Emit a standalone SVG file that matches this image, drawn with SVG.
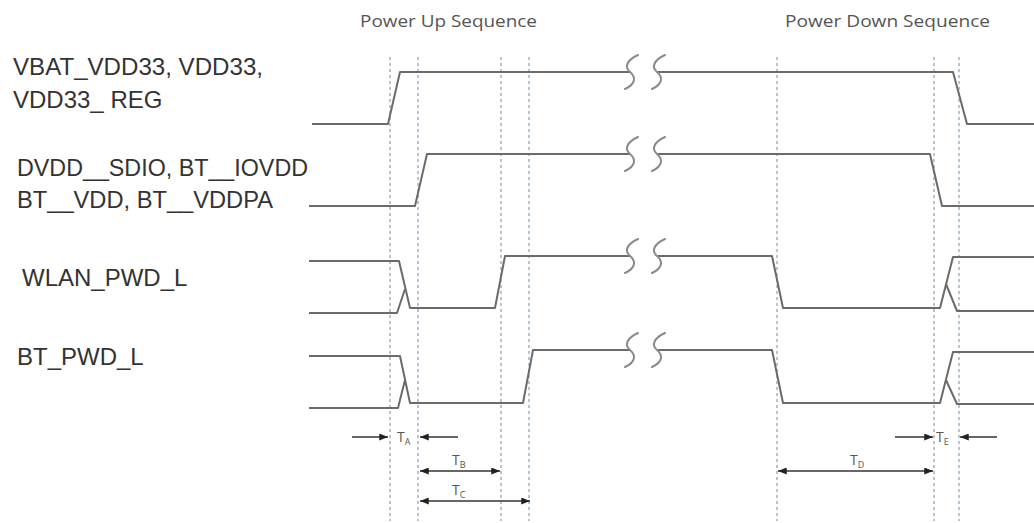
<svg xmlns="http://www.w3.org/2000/svg" width="1034" height="523" viewBox="0 0 1034 523">
<defs>
<style>
.lbl{font-family:"Liberation Sans",Arial,sans-serif;font-size:24px;fill:#333}
.hdr{font-family:"Open Sans","Liberation Sans",sans-serif;font-size:16px;fill:#555}
.tl{font-family:"Open Sans","Liberation Sans",sans-serif;font-size:14px;fill:#555}
.sig{fill:none;stroke:#6b6b6b;stroke-width:2;stroke-linejoin:round}
.brk{fill:none;stroke:#8a8a8a;stroke-width:2;stroke-linecap:round}
.dash{stroke:#7f9fc4;stroke-width:1.2;stroke-dasharray:3 3}
.arr{stroke:#333;stroke-width:1.5;fill:none}
</style>
<marker id="ah" viewBox="0 0 10 8" refX="10" refY="4" markerWidth="9" markerHeight="7" markerUnits="userSpaceOnUse" orient="auto-start-reverse">
<path d="M0,0 L10,4 L0,8 z" fill="#222"/>
</marker>
<path id="sq" d="M7,-17 C-4,-12 -7,-5 -1,0 C5,5 5,12 -6,17"/>
</defs>
<rect width="1034" height="523" fill="#fff"/>

<g id="headers">
<text class="hdr" x="360" y="27" textLength="177" lengthAdjust="spacingAndGlyphs">Power Up Sequence</text>
<text class="hdr" x="785" y="27" textLength="205" lengthAdjust="spacingAndGlyphs">Power Down Sequence</text>
</g>

<g id="guides">
<line class="dash" x1="390" y1="57" x2="390" y2="521"/>
<line class="dash" x1="418" y1="57" x2="418" y2="521"/>
<line class="dash" x1="501" y1="57" x2="501" y2="521"/>
<line class="dash" x1="529" y1="57" x2="529" y2="521"/>
<line class="dash" x1="777" y1="57" x2="777" y2="521"/>
<line class="dash" x1="934" y1="57" x2="934" y2="521"/>
<line class="dash" x1="959" y1="57" x2="959" y2="521"/>
</g>

<g id="sig-vbat">
<text class="lbl" x="13" y="75" textLength="250" lengthAdjust="spacingAndGlyphs">VBAT_VDD33, VDD33,</text>
<text class="lbl" x="13" y="108">VDD33_ REG</text>
<path class="sig" d="M312,124 L388,124 L400,72 L630,72"/>
<path class="sig" d="M658,72 L953,72 L967,124 L1034,124"/>
<use href="#sq" class="brk" x="631" y="72"/>
<use href="#sq" class="brk" x="658" y="72"/>
</g>

<g id="sig-dvdd">
<text class="lbl" x="17" y="176" textLength="291" lengthAdjust="spacingAndGlyphs">DVDD__SDIO, BT__IOVDD</text>
<text class="lbl" x="17" y="208" textLength="256" lengthAdjust="spacingAndGlyphs">BT__VDD, BT__VDDPA</text>
<path class="sig" d="M309,206 L415,206 L427,154 L630,154"/>
<path class="sig" d="M658,154 L930,154 L942,206 L1034,206"/>
<use href="#sq" class="brk" x="631" y="154"/>
<use href="#sq" class="brk" x="658" y="154"/>
</g>

<g id="sig-wlan">
<text class="lbl" x="22" y="286">WLAN_PWD_L</text>
<path class="sig" d="M309,261 L399,261 L410,308 L495,308 L505,256 L630,256"/>
<path class="sig" d="M309,313 L397,313 L405,289"/>
<path class="sig" d="M658,256 L772,256 L783,308 L940,308 L953,257 L1034,257"/>
<path class="sig" d="M946,284 L957,311 L1034,311"/>
<use href="#sq" class="brk" x="631" y="256"/>
<use href="#sq" class="brk" x="658" y="256"/>
</g>

<g id="sig-bt">
<text class="lbl" x="17" y="365">BT_PWD_L</text>
<path class="sig" d="M309,356 L400,356 L410,403 L523,403 L533,350 L630,350"/>
<path class="sig" d="M309,408 L398,408 L405,380"/>
<path class="sig" d="M658,350 L772,350 L783,403 L940,403 L953,352 L1034,352"/>
<path class="sig" d="M946,380 L957,404 L1034,404"/>
<use href="#sq" class="brk" x="631" y="350"/>
<use href="#sq" class="brk" x="658" y="350"/>
</g>

<g id="connectors">
<line class="arr" x1="352" y1="437" x2="388" y2="437" marker-end="url(#ah)"/>
<line class="arr" x1="458" y1="437" x2="420" y2="437" marker-end="url(#ah)"/>
<line class="arr" x1="420" y1="471" x2="500" y2="471" marker-start="url(#ah)" marker-end="url(#ah)"/>
<line class="arr" x1="420" y1="501" x2="530" y2="501" marker-start="url(#ah)" marker-end="url(#ah)"/>
<line class="arr" x1="895" y1="437" x2="933" y2="437" marker-end="url(#ah)"/>
<line class="arr" x1="997" y1="437" x2="960" y2="437" marker-end="url(#ah)"/>
<line class="arr" x1="778" y1="471" x2="933" y2="471" marker-start="url(#ah)" marker-end="url(#ah)"/>
</g>

<g id="timing-labels">
<text class="tl" x="397" y="442">T<tspan font-size="9" dy="3">A</tspan></text>
<text class="tl" x="452" y="465">T<tspan font-size="9" dy="3">B</tspan></text>
<text class="tl" x="452" y="495">T<tspan font-size="9" dy="3">C</tspan></text>
<text class="tl" x="850" y="465">T<tspan font-size="9" dy="3">D</tspan></text>
<text class="tl" x="936" y="442">T<tspan font-size="9" dy="3">E</tspan></text>
</g>
</svg>
